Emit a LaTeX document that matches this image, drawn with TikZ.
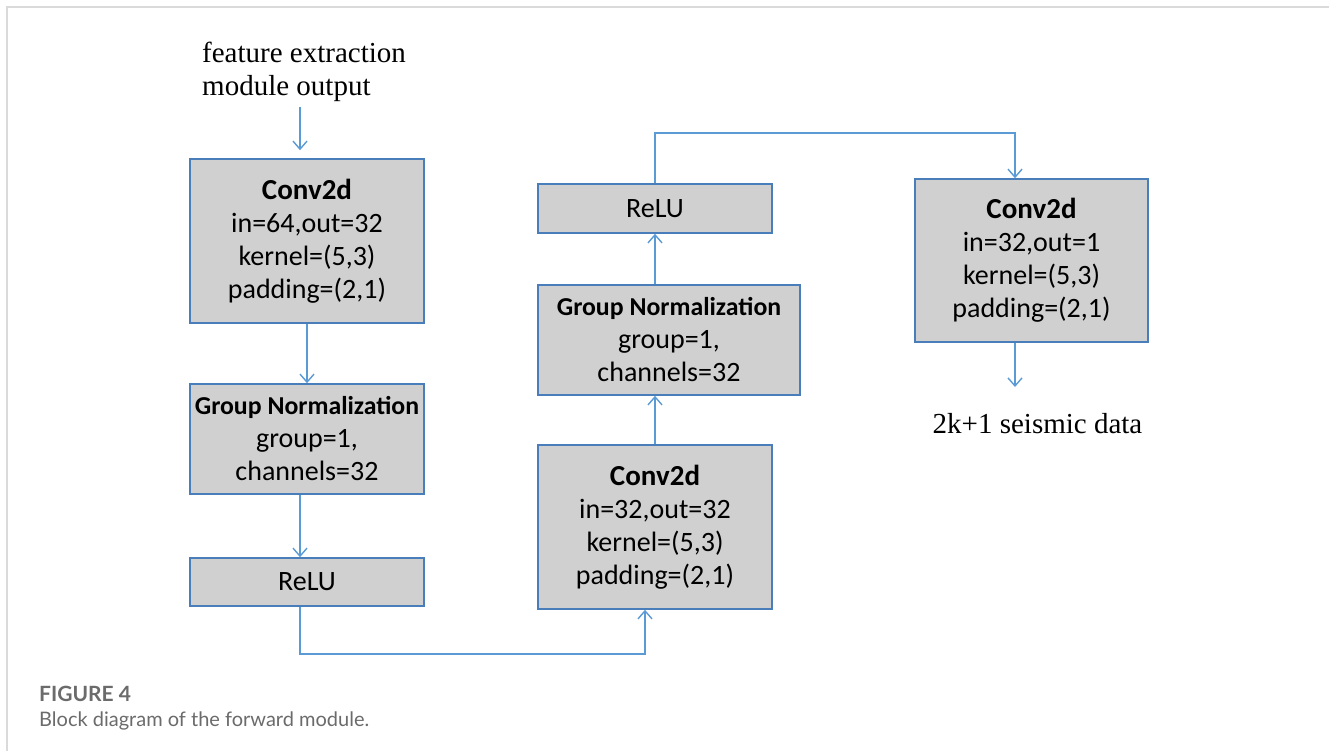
\documentclass[tikz,border=0pt]{standalone}
\usepackage{fontspec}
\setmainfont{Liberation Serif}
\newfontfamily\boxfont{Carlito}
\newfontfamily\capfont{Lato}
\usetikzlibrary{arrows.meta}
\definecolor{boxfill}{HTML}{D0D0D0}
\definecolor{boxline}{HTML}{4A7EBB}
\definecolor{arrline}{HTML}{5B9BD5}
\definecolor{framegray}{HTML}{DADADA}
\definecolor{capgray}{HTML}{6B6B6B}
\newcommand{\gnfont}{\fontsize{25.8}{33}\selectfont\bfseries}
\tikzset{
  x=1pt,y=-1pt,
  blk/.style={draw=boxline,line width=1.6pt,fill=boxfill,align=center,
    font=\boxfont\fontsize{28}{33}\selectfont,inner sep=0pt},
  arr/.style={draw=arrline,line width=1.4pt,
    -{Straight Barb[length=8pt,width=14pt,line width=1.4pt]}},
  serif/.style={font=\fontsize{29}{33}\selectfont,align=left,inner sep=0pt}
}
\begin{document}
\begin{tikzpicture}
\useasboundingbox (0,0) rectangle (1329,751);
\fill[white] (0,0) rectangle (1329,751);
\draw[framegray,line width=2pt] (7,751) -- (7,7) -- (1329,7);
% title text
\node[serif,anchor=north west] (inp) at (202,42) {feature extraction\\module output};
% boxes
\node[blk,minimum width=234,minimum height=164] (A) at (307,241)
  {\textbf{\fontsize{29}{33}\selectfont Conv2d}\\in=64,out=32\\kernel=(5,3)\\padding=(2,1)};
\node[blk,minimum width=234,minimum height=110] (B) at (307,439)
  {{\gnfont Group Normalization}\\group=1,\\channels=32};
\node[blk,minimum width=234,minimum height=48] (C) at (307,582) {ReLU};
\node[blk,minimum width=234,minimum height=164] (D) at (655,527)
  {\textbf{\fontsize{29}{33}\selectfont Conv2d}\\in=32,out=32\\kernel=(5,3)\\padding=(2,1)};
\node[blk,minimum width=262,minimum height=110] (E) at (669,340)
  {{\gnfont Group Normalization}\\group=1,\\channels=32};
\node[blk,minimum width=234,minimum height=49] (F) at (655,208.5) {ReLU};
\node[blk,minimum width=233,minimum height=163] (G) at (1031.5,260.5)
  {\textbf{\fontsize{29}{33}\selectfont Conv2d}\\in=32,out=1\\kernel=(5,3)\\padding=(2,1)};
\node[serif,anchor=north] (out) at (1037.5,413) {2k+1 seismic data};
% connectors
\draw[arr,shorten <=5pt,shorten >=8pt] ([xshift=98]inp.south west) -- ([xshift=-7]A.north);
\draw[arr] (A.south) -- (B.north);
\draw[arr] ([xshift=-7]B.south) -- ([xshift=-7]C.north);
\draw[arr] ([xshift=-7]C.south) |- (345,654) -| ([xshift=-10]D.south);
\draw[arr] (D.north) -- (D.north |- E.south);
\draw[arr] (E.north -| F.south) -- (F.south);
\draw[arr] (F.north) |- (900,133) -| ([xshift=-16.5]G.north);
\draw[arr,shorten >=26pt] ([xshift=-16.5]G.south) -- ([xshift=-22.5]out.north);
% caption
\node[anchor=base west,inner sep=0pt,text=capgray,font=\capfont\bfseries\fontsize{21}{24}\selectfont] (cap1) at (39,701) {FIGURE 4};
\node[anchor=base west,inner sep=0pt,text=capgray,font=\capfont\fontsize{20}{24}\selectfont] (cap2) at (39,726) {Block diagram of the forward module.};
\end{tikzpicture}
\end{document}
